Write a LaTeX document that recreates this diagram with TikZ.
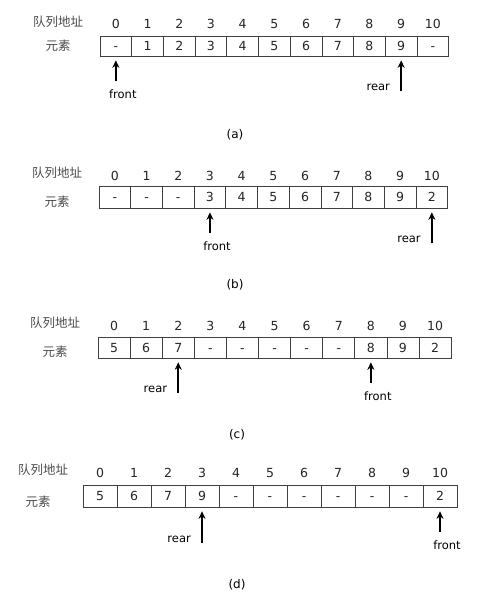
\documentclass[tikz,border=0pt]{standalone}
\usepackage{fontspec}
\setmainfont{DejaVu Sans}
\newfontfamily\cjk{Noto Sans CJK SC}
\usetikzlibrary{arrows.meta,positioning}

\tikzset{
  cell/.style={draw=black!75, line width=0.7pt, minimum height=21pt, inner sep=0pt, text height=9pt, text depth=0pt, text=black!85, font=\fontsize{12.5}{14}\selectfont},
  idx/.style={inner sep=0pt, text height=9pt, text depth=0pt, text=black!85, font=\fontsize{12.5}{14}\selectfont},
  head/.style={inner sep=0pt, text=black!70, font=\cjk\fontsize{12.5}{14}\selectfont},
  ptr/.style={-{Stealth[length=7.5pt,width=7pt]}, line width=1.6pt, shorten >=4pt},
  fronttext/.style={inner sep=0pt, xshift=7pt, yshift=-13pt, font=\fontsize{11.5}{13}\selectfont},
  reartext/.style={inner sep=0pt, anchor=east, xshift=-11pt, yshift=4pt, font=\fontsize{11.5}{13}\selectfont},
  caption/.style={inner sep=0pt, font=\fontsize{12}{14}\selectfont}
}

\begin{document}
\begin{tikzpicture}[x=1pt, y=-1pt]
    \useasboundingbox[fill=white] (0,0) rectangle (490,596);

    % (a)
    \node[head] (aAddr) at (58,22) {队列地址};
    \node[head] (aElem) at (58,46) {元素};
    \foreach \v [count=\i from 0] in {-,1,2,3,4,5,6,7,8,9,-} {
        \node[cell, minimum width=31.7pt, minimum height=20pt] (a\i) at ({100+(\i+0.5)*31.7},46) {\v};
        \node[idx] (aI\i) at ({100+(\i+0.5)*31.7},24) {\i};
    }
    \coordinate (aF) at ([yshift=-25pt]a0.south);
    \coordinate (aR) at ([yshift=-35pt]a9.south);
    \draw[ptr] (aF) -- (a0.south);
    \draw[ptr] (aR) -- (a9.south);
    \node[fronttext] (aFront) at (aF) {front};
    \node[reartext] (aRear) at (aR) {rear};
    \node[caption] (aCap) at (235,135) {(a)};

    % (b)
    \node[head] (bAddr) at (57,173) {队列地址};
    \node[head] (bElem) at (57,202) {元素};
    \foreach \v [count=\i from 0] in {-,-,-,3,4,5,6,7,8,9,2} {
        \node[cell, minimum width=31.7pt, minimum height=22pt] (b\i) at ({99+(\i+0.5)*31.7},197) {\v};
        \node[idx] (bI\i) at ({99+(\i+0.5)*31.7},176) {\i};
    }
    \coordinate (bF) at ([yshift=-25pt]b3.south);
    \coordinate (bR) at ([yshift=-35pt]b10.south);
    \draw[ptr] (bF) -- (b3.south);
    \draw[ptr] (bR) -- (b10.south);
    \node[fronttext] (bFront) at (bF) {front};
    \node[reartext] (bRear) at (bR) {rear};
    \node[caption] (bCap) at (235,285) {(b)};

    % (c)
    \node[head] (cAddr) at (55,323) {队列地址};
    \node[head] (cElem) at (55,352) {元素};
    \foreach \v [count=\i from 0] in {5,6,7,-,-,-,-,-,8,9,2} {
        \node[cell, minimum width=32.1pt, minimum height=21pt] (c\i) at ({98+(\i+0.5)*32.1},347.5) {\v};
        \node[idx] (cI\i) at ({98+(\i+0.5)*32.1},326) {\i};
    }
    \coordinate (cF) at ([yshift=-25pt]c8.south);
    \coordinate (cR) at ([yshift=-35pt]c2.south);
    \draw[ptr] (cF) -- (c8.south);
    \draw[ptr] (cR) -- (c2.south);
    \node[fronttext] (cFront) at (cF) {front};
    \node[reartext] (cRear) at (cR) {rear};
    \node[caption] (cCap) at (237,435) {(c)};

    % (d)
    \node[head] (dAddr) at (43,470) {队列地址};
    \node[head] (dElem) at (38,502) {元素};
    \foreach \v [count=\i from 0] in {5,6,7,9,-,-,-,-,-,-,2} {
        \node[cell, minimum width=34pt, minimum height=22pt] (d\i) at ({83+(\i+0.5)*34},496) {\v};
        \node[idx] (dI\i) at ({83+(\i+0.5)*34},473) {\i};
    }
    \coordinate (dF) at ([yshift=-25pt]d10.south);
    \coordinate (dR) at ([yshift=-36pt]d3.south);
    \draw[ptr] (dF) -- (d10.south);
    \draw[ptr] (dR) -- (d3.south);
    \node[fronttext] (dFront) at (dF) {front};
    \node[reartext] (dRear) at (dR) {rear};
    \node[caption] (dCap) at (237,585) {(d)};
\end{tikzpicture}
\end{document}
